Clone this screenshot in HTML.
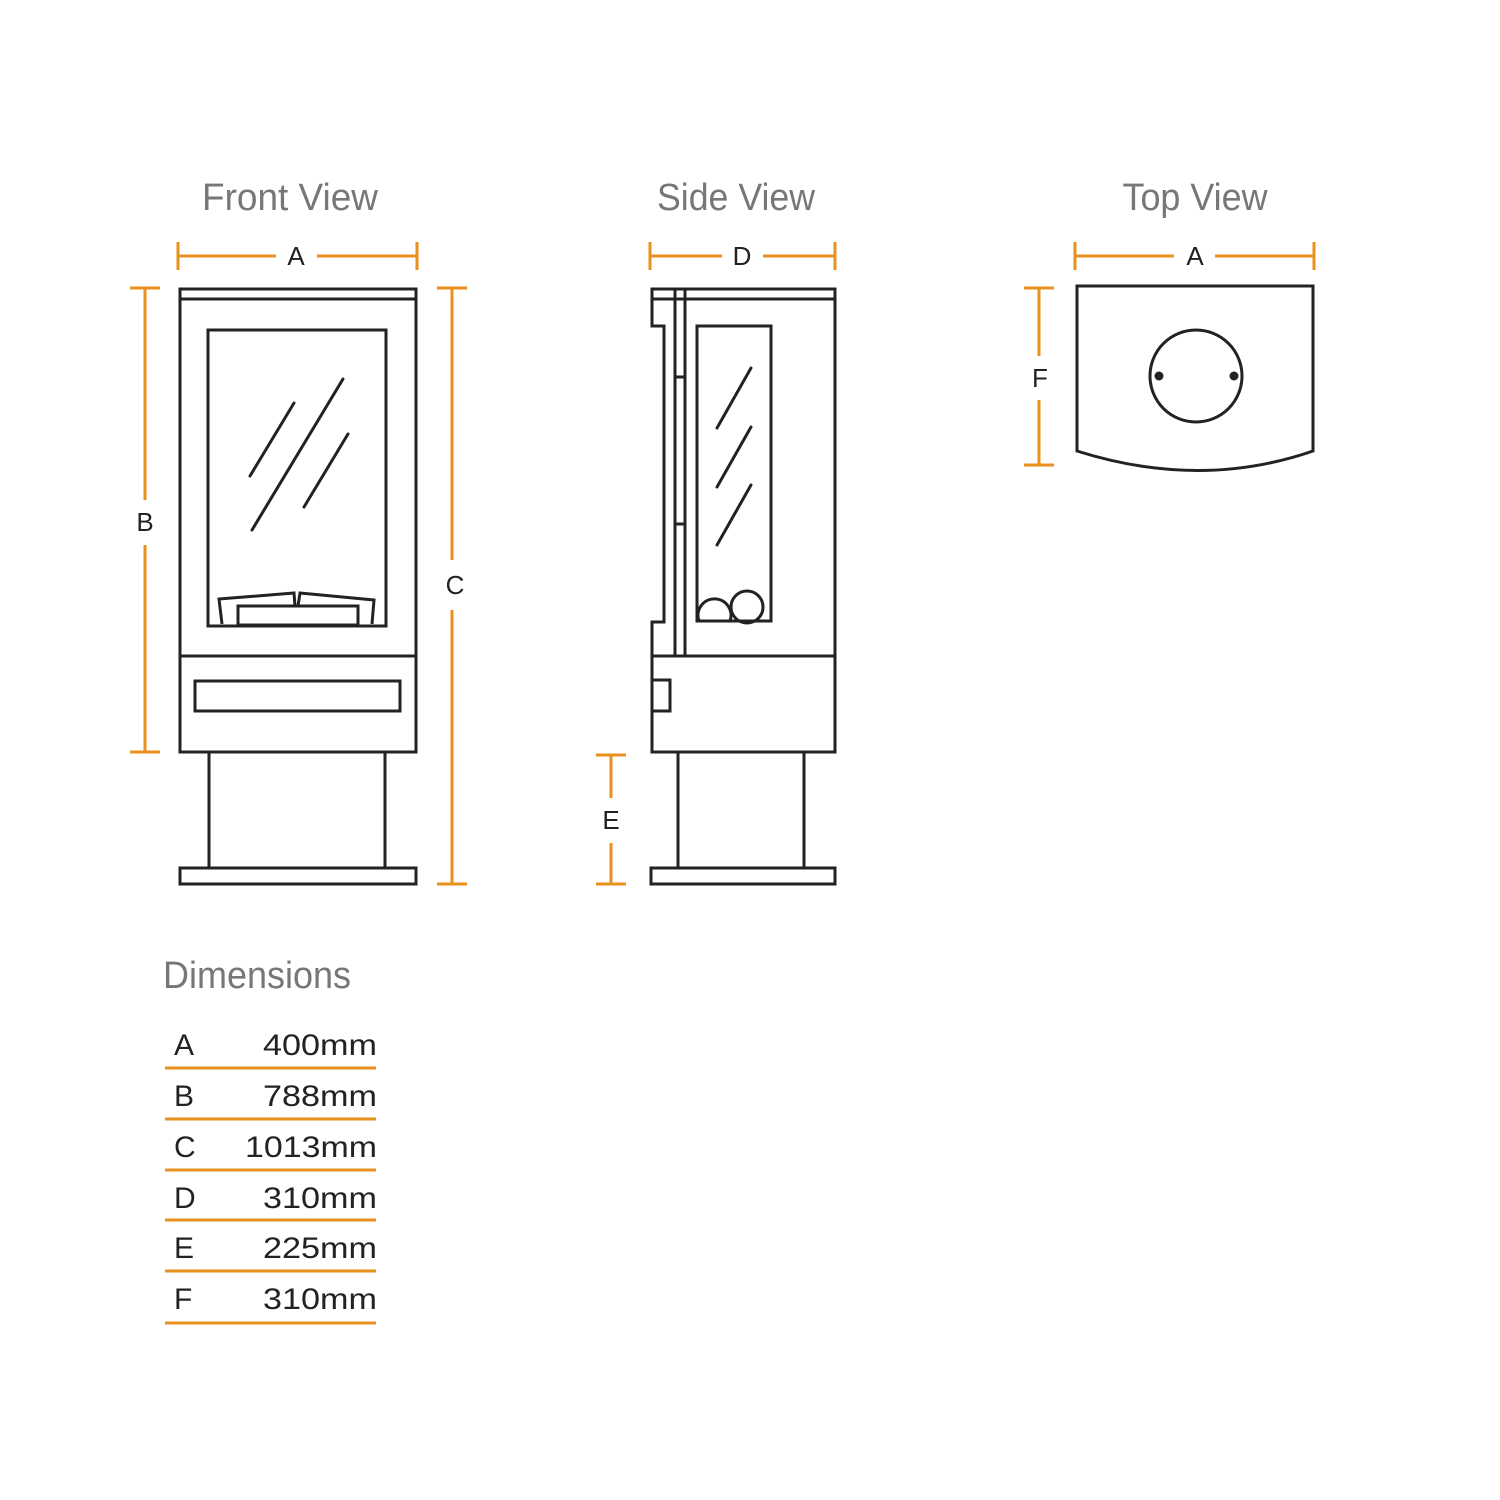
<!DOCTYPE html>
<html><head><meta charset="utf-8"><style>
html,body{margin:0;padding:0;background:#fff;}
svg{display:block;}
</style></head><body>
<svg width="1500" height="1500" viewBox="0 0 1500 1500" xmlns="http://www.w3.org/2000/svg">
<rect width="1500" height="1500" fill="#fff"/>
<g font-family="Liberation Sans, sans-serif" fill="#777" font-size="38">
<text x="290" y="210" text-anchor="middle" textLength="176" lengthAdjust="spacingAndGlyphs">Front View</text>
<text x="736" y="210" text-anchor="middle" textLength="158" lengthAdjust="spacingAndGlyphs">Side View</text>
<text x="1195" y="210" text-anchor="middle" textLength="145" lengthAdjust="spacingAndGlyphs">Top View</text>
<text x="163" y="988" textLength="188" lengthAdjust="spacingAndGlyphs">Dimensions</text>
</g>
<g stroke="#e8911e" stroke-width="3" fill="none">
<path d="M178 242V270M417 242V270M178 256H276M317 256H417"/>
<path d="M130 288H160M130 752H160M145 288V500M145 545V752"/>
<path d="M437 288H467M437 884H467M452 288V560M452 610V884"/>
<path d="M650 242V270M835 242V270M650 256H722M763 256H835"/>
<path d="M596 755H626M596 884H626M611 755V798M611 843V884"/>
<path d="M1075 242V270M1314 242V270M1075 256H1174M1215 256H1314"/>
<path d="M1024 288H1054M1024 465H1054M1039 288V356M1039 400V465"/>
<path d="M165 1068H376M165 1119H376M165 1170H376M165 1220H376M165 1271H376M165 1323H376"/>
</g>
<g font-family="Liberation Sans, sans-serif" fill="#222" font-size="26" text-anchor="middle">
<text x="296" y="265">A</text>
<text x="145" y="531">B</text>
<text x="455" y="594">C</text>
<text x="742" y="265">D</text>
<text x="611" y="829">E</text>
<text x="1195" y="265">A</text>
<text x="1040" y="387">F</text>
</g>
<g font-family="Liberation Sans, sans-serif" fill="#222" font-size="30">
<text x="174" y="1055">A</text><text x="263" y="1055" textLength="114" lengthAdjust="spacingAndGlyphs">400mm</text>
<text x="174" y="1106">B</text><text x="263" y="1106" textLength="114" lengthAdjust="spacingAndGlyphs">788mm</text>
<text x="174" y="1157">C</text><text x="245" y="1157" textLength="132" lengthAdjust="spacingAndGlyphs">1013mm</text>
<text x="174" y="1208">D</text><text x="263" y="1208" textLength="114" lengthAdjust="spacingAndGlyphs">310mm</text>
<text x="174" y="1258">E</text><text x="263" y="1258" textLength="114" lengthAdjust="spacingAndGlyphs">225mm</text>
<text x="174" y="1309">F</text><text x="263" y="1309" textLength="114" lengthAdjust="spacingAndGlyphs">310mm</text>
</g>
<g stroke="#222" stroke-width="3" fill="none">
<rect x="180" y="289" width="236" height="463"/>
<path d="M180 299H416M180 656H416"/>
<rect x="208" y="330" width="178" height="296"/>
<rect x="195" y="681" width="205" height="30"/>
<rect x="209" y="752" width="176" height="116"/>
<rect x="180" y="868" width="236" height="16"/>
<path d="M222 624L219 599L294 593L295 606"/>
<path d="M298 606L300 593L374 600L372 624"/>
<rect x="238" y="606" width="120" height="19"/>
<path d="M250 476L294 403M252 530L343 379M304 507L348 434" stroke-linecap="round"/>
</g>
<g stroke="#222" stroke-width="3" fill="none">
<path d="M652 289H835V752H652V656V622H664V326H652Z"/>
<path d="M652 299H835M652 656H835M675 289V656M685 289V656M675 377H685M675 524H685"/>
<rect x="697" y="326" width="74" height="295"/>
<path d="M699 621A16.5 16.5 0 1 1 730 621"/>
<circle cx="747" cy="607" r="16"/>
<rect x="652" y="680" width="18" height="31"/>
<rect x="678" y="752" width="126" height="116"/>
<rect x="651" y="868" width="184" height="16"/>
<path d="M717 428L751 368M717 487L751 427M717 545L751 485" stroke-linecap="round"/>
</g>
<g stroke="#222" stroke-width="3" fill="none">
<path d="M1077 286H1313V451Q1200 490 1077 451Z"/>
<circle cx="1196" cy="376" r="46"/>
</g>
<circle cx="1159" cy="376" r="4.5" fill="#222"/>
<circle cx="1234" cy="376" r="4.5" fill="#222"/>
</svg>
</body></html>
